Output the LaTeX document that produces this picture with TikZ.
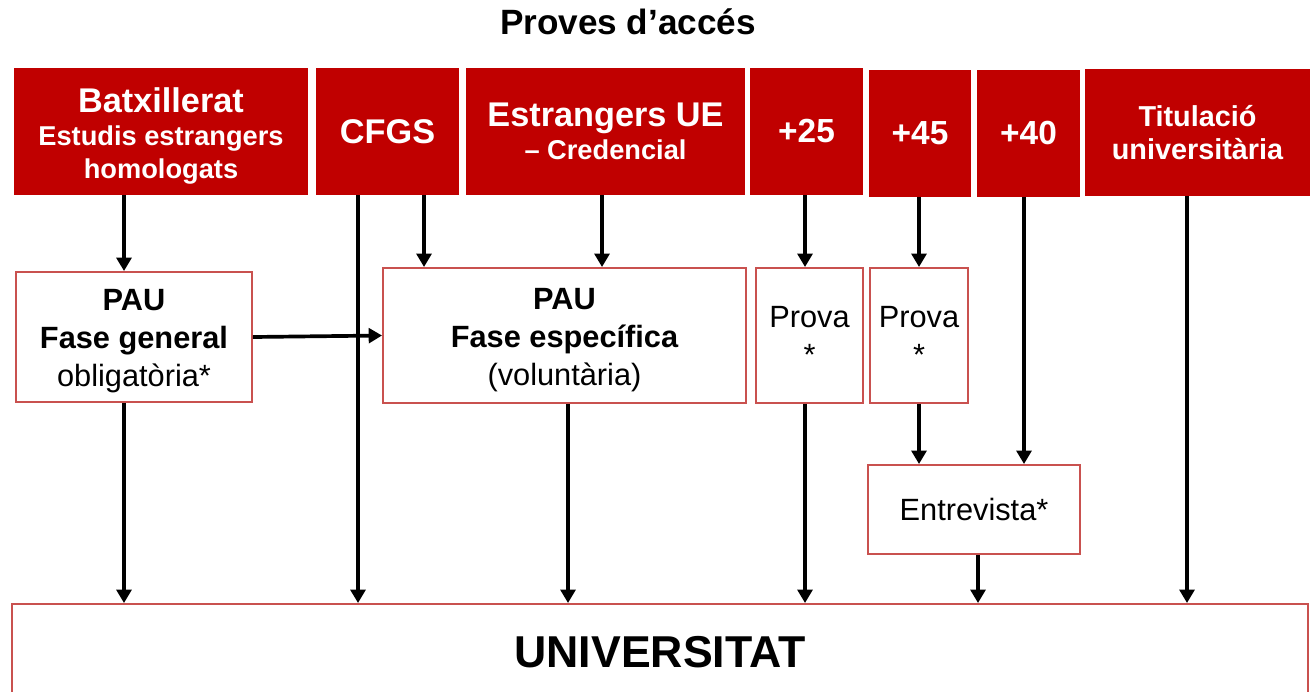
\documentclass[tikz,border=0pt]{standalone}
\usepackage{fontspec}
\setmainfont{Liberation Sans}
\usetikzlibrary{arrows.meta, positioning}
\definecolor{redA}{HTML}{C00000}
\definecolor{redB}{HTML}{C9514F}
\newcommand{\fs}[2]{\fontsize{#1}{#2}\selectfont}
\newcommand{\lift}{\rule{0pt}{0.98em}}
\tikzset{
  head/.style={
    fill=redA, text=white, align=center, inner sep=0pt,
    minimum height=2.54cm, font=\bfseries\fs{#1}{19}
  },
  head/.default=19.5,
  stage/.style={
    draw=redB, fill=white, line width=1.1pt, align=center,
    inner sep=0pt, font=\fs{17.5}{21.6}
  },
  arrow/.style={-{Triangle[length=7.6pt,width=8.4pt]}, line width=2.1pt}
}

\begin{document}
\begin{tikzpicture}
  \clip (0,0) rectangle (26.28,-13.82);
  \node[font=\bfseries\fs{20}{24}] (title) at (12.56,-0.44) {Proves d’accés};
  % access routes
  \node[head=15.5, minimum width=5.88cm] (batx) at (3.22,-2.63)
    {{\fs{19.5}{19}\lift Batxillerat}\\Estudis estrangers\\homologats};
  \node[head, minimum width=2.86cm] (cfgs) at (7.75,-2.63) {CFGS};
  \node[head=15.5, minimum width=5.58cm] (estr) at (12.11,-2.63)
    {{\fs{19.5}{19}Estrangers UE}\\– Credencial};
  \node[head=19, minimum width=2.26cm] (m25) at (16.13,-2.63) {+25};
  \node[head=19, minimum width=2.04cm] (m45) at (18.40,-2.66) {+45};
  \node[head=19, minimum width=2.06cm] (m40) at (20.57,-2.66) {+40};
  \node[head=16.4, minimum width=4.50cm] (titol) at (23.95,-2.65)
    {Titulació\\universitària};
  % tests
  \node[stage, minimum width=4.72cm, minimum height=2.60cm] (fgen) at (2.68,-6.74)
    {\bfseries\lift PAU\\\bfseries Fase general\\obligatòria*};
  \node[stage, minimum width=7.26cm, minimum height=2.70cm] (fesp) at (11.29,-6.71)
    {\bfseries\lift PAU\\\bfseries Fase específica\\(voluntària)};
  \node[stage, minimum width=2.14cm, minimum height=2.70cm] (provaA) at (16.19,-6.71)
    {Prova\\*};
  \node[stage, minimum width=1.96cm, minimum height=2.70cm] (provaB) at (18.38,-6.71)
    {Prova\\*};
  \node[stage, minimum width=4.24cm, minimum height=1.78cm] (entrev) at (19.48,-10.19)
    {Entrevista*};
  \node[stage, minimum width=25.92cm, minimum height=1.92cm,
    font=\bfseries\fs{25.4}{30}] (univ) at (13.20,-13.04) {UNIVERSITAT};
  % arrow columns
  \foreach \n/\x in {a/2.48, b/7.16, c/8.48, d/12.04, e/11.36,
                     f/16.10, g/18.38, h/20.48, i/19.56, j/23.74}
    \coordinate (x\n) at (\x,0);
  \draw[arrow] (batx.south -| xa) -- (fgen.north -| xa);
  \draw[arrow] (fgen.south -| xa) -- (univ.north -| xa);
  \draw[arrow] (cfgs.south -| xb) -- (univ.north -| xb);
  \draw[arrow] (cfgs.south -| xc) -- (fesp.north -| xc);
  \draw[arrow] (estr.south -| xd) -- (fesp.north -| xd);
  \draw[arrow] (fesp.south -| xe) -- (univ.north -| xe);
  \draw[arrow] (m25.south -| xf) -- (provaA.north -| xf);
  \draw[arrow] (provaA.south -| xf) -- (univ.north -| xf);
  \draw[arrow] (m45.south -| xg) -- (provaB.north -| xg);
  \draw[arrow] (provaB.south -| xg) -- (entrev.north -| xg);
  \draw[arrow] (m40.south -| xh) -- (entrev.north -| xh);
  \draw[arrow] (entrev.south -| xi) -- (univ.north -| xi);
  \draw[arrow] (titol.south -| xj) -- (univ.north -| xj);
  \draw[arrow] (fgen.east) -- (fesp.west);
\end{tikzpicture}
\end{document}
